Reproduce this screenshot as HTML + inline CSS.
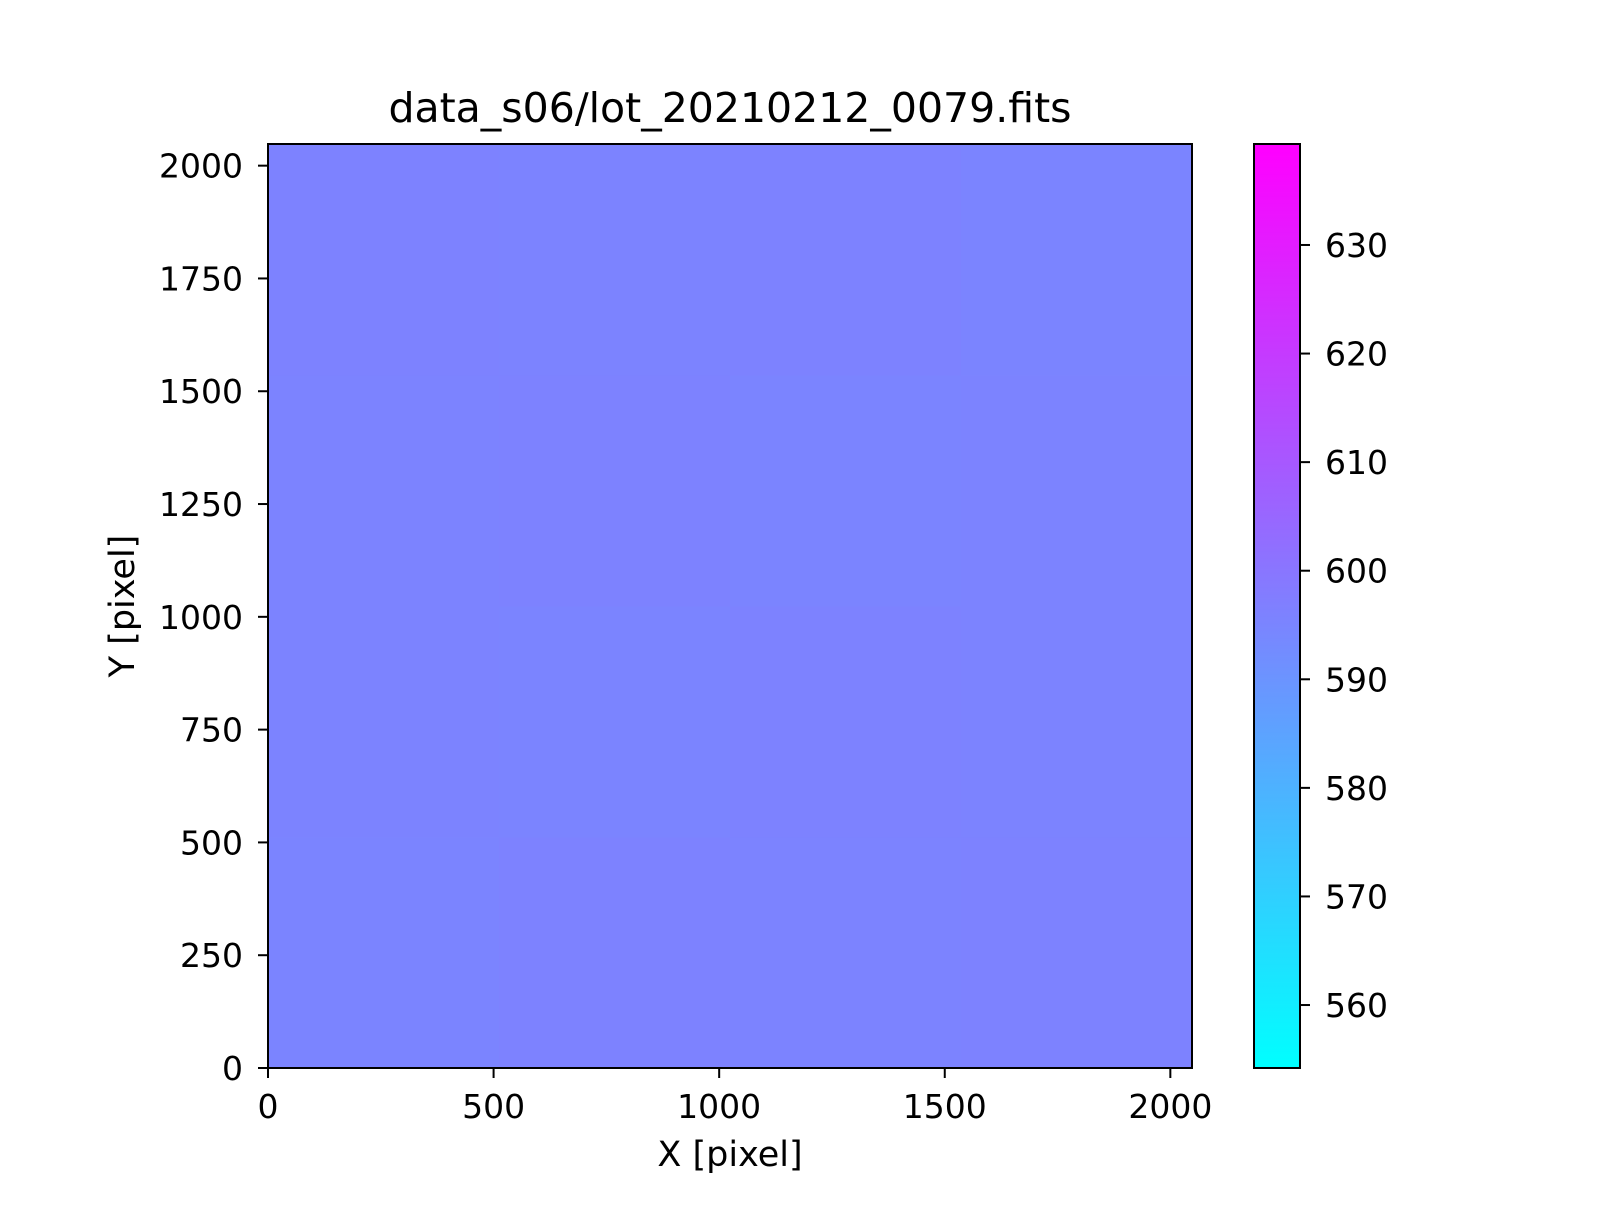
<!DOCTYPE html>
<html><head><meta charset="utf-8">
<style>
html,body{margin:0;padding:0;background:#fff;}
svg text{font-family:"DejaVu Sans","Liberation Sans",sans-serif;fill:#000;}
</style></head>
<body>
<svg id="chart" width="1600" height="1200" viewBox="0 0 1600 1200" xmlns="http://www.w3.org/2000/svg">
<rect width="1600" height="1200" fill="#fff"/>
<text x="730" y="122" font-size="41" text-anchor="middle">data_s06/lot_20210212_0079.fits</text>
<g id="cells"></g>
<g id="cbar"></g>
<rect x="268" y="144" width="924" height="924" fill="none" stroke="#000" stroke-width="2"/>
<g id="ticks"></g>
<text x="730" y="1166" font-size="35" text-anchor="middle">X [pixel]</text>
<text transform="translate(134,606) rotate(-90)" font-size="35" text-anchor="middle">Y [pixel]</text>
</svg>
<script>
const xTicks=[0,500,1000,1500,2000];
const yTicks=[0,250,500,750,1000,1250,1500,1750,2000];
const cbTicks=[560,570,580,590,600,610,620,630];
const gridValues=[
 [595.4,595.8,595.6,596.0],
 [595.7,595.3,595.8,595.5],
 [595.5,595.9,595.4,595.7],
 [595.8,595.6,596.0,595.4]
];
const vmin=554.2, vmax=639.3, extent=2048;
const NS="http://www.w3.org/2000/svg";
const ax={x0:268,x1:1192,y0:1068,y1:144};
const cb={x0:1254,x1:1300};
const sx=v=>ax.x0+(v/extent)*(ax.x1-ax.x0);
const sy=v=>ax.y0-(v/extent)*(ax.y0-ax.y1);
const sc=v=>ax.y0-((v-vmin)/(vmax-vmin))*(ax.y0-ax.y1);
function cool(v){let t=(v-vmin)/(vmax-vmin);t=Math.max(0,Math.min(1,t));
 return `rgb(${Math.round(255*t)},${Math.round(255*(1-t))},255)`;}
function mk(tag,attrs,parent){const e=document.createElementNS(NS,tag);for(const k in attrs)e.setAttribute(k,attrs[k]);parent.appendChild(e);return e;}
const cells=document.getElementById('cells');
const n=gridValues.length, step=extent/n;
gridValues.forEach((row,ri)=>row.forEach((v,ci)=>{
 const r=mk('rect',{x:sx(ci*step),y:sy((ri+1)*step),width:sx((ci+1)*step)-sx(ci*step)+0.5,height:sy(ri*step)-sy((ri+1)*step)+0.5,fill:cool(v)},cells);
 
 
}));
const cbar=document.getElementById('cbar');
const defs=mk('defs',{},cbar);
const g=mk('linearGradient',{id:'coolgrad',x1:0,y1:1,x2:0,y2:0},defs);
mk('stop',{offset:0,'stop-color':'#00ffff'},g);mk('stop',{offset:1,'stop-color':'#ff00ff'},g);
const cr=mk('rect',{x:cb.x0,y:ax.y1,width:cb.x1-cb.x0,height:ax.y0-ax.y1,fill:'url(#coolgrad)',stroke:'#000','stroke-width':2},cbar);


const tk=document.getElementById('ticks');
xTicks.forEach(v=>{const x=sx(v);
 mk('line',{x1:x,x2:x,y1:ax.y0,y2:ax.y0+10,stroke:'#000','stroke-width':2},tk);
 const t=mk('text',{x:x,y:ax.y0+50,'font-size':33,'text-anchor':'middle'},tk);t.textContent=v;
 
 });
yTicks.forEach(v=>{const y=sy(v);
 mk('line',{x1:ax.x0-10,x2:ax.x0,y1:y,y2:y,stroke:'#000','stroke-width':2},tk);
 const t=mk('text',{x:ax.x0-25,y:y+12,'font-size':33,'text-anchor':'end'},tk);t.textContent=v;
 
 });
cbTicks.forEach(v=>{const y=sc(v);
 mk('line',{x1:cb.x1,x2:cb.x1+10,y1:y,y2:y,stroke:'#000','stroke-width':2},tk);
 const t=mk('text',{x:cb.x1+25,y:y+12,'font-size':33},tk);t.textContent=v;
 
 });
</script>
</body></html>
